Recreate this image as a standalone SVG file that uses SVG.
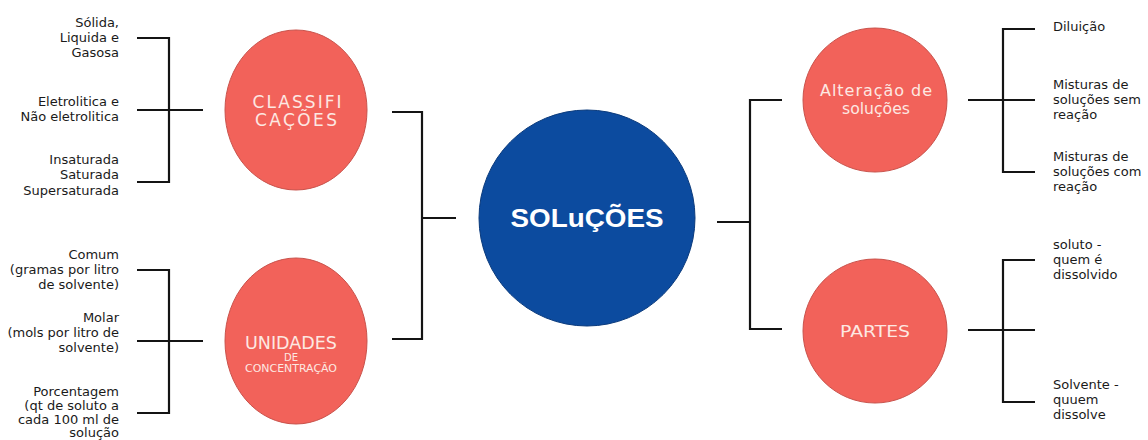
<svg xmlns="http://www.w3.org/2000/svg" width="1148" height="440" viewBox="0 0 1148 440">
  <style>
    .bg { fill: #ffffff; }
    .wire { fill: none; stroke: #141414; stroke-width: 2.2; stroke-linecap: butt; stroke-linejoin: miter; }
    .coral { fill: #f2625a; stroke: #c9524b; stroke-width: 1; }
    .core { fill: #0c4b9f; stroke: #0a3a7c; stroke-width: 1; }
    .lbl { font-family: "DejaVu Sans", "Liberation Sans", sans-serif; fill: #fde8e2; text-anchor: middle; }
    .core-lbl { font-family: "Liberation Sans", Arial, sans-serif; font-weight: bold; fill: #ffffff; text-anchor: middle; }
    .note { font-family: "DejaVu Sans", "Liberation Sans", sans-serif; font-size: 13px; fill: #1a1a1a; }
    .r { text-anchor: end; }
    .l { text-anchor: start; }
  </style>
  <rect class="bg" x="0" y="0" width="1148" height="440"/>

  <!-- connectors -->
  <g id="connectors" class="wire">
    <!-- classification bracket -->
    <path d="M137 38 H169 V182 H137"/>
    <path d="M137 110 H203"/>
    <!-- concentration bracket -->
    <path d="M137 270 H169 V413 H137"/>
    <path d="M137 341 H203"/>
    <!-- left nodes to centre -->
    <path d="M392 112 H422 V339 H392"/>
    <path d="M422 218 H456"/>
    <!-- centre to right nodes -->
    <path d="M717 222 H750"/>
    <path d="M782 100 H750 V329 H782"/>
    <!-- alteration bracket -->
    <path d="M968 100 H1035"/>
    <path d="M1035 29 H1003 V172 H1035"/>
    <!-- parts bracket -->
    <path d="M968 330 H1035"/>
    <path d="M1035 260 H1003 V402 H1035"/>
  </g>

  <!-- central node -->
  <g id="node-solucoes">
    <circle class="core" cx="587" cy="218" r="108"/>
    <text class="core-lbl" x="587" y="227" font-size="26" textLength="153" lengthAdjust="spacingAndGlyphs">SOLuÇÕES</text>
  </g>

  <!-- left nodes -->
  <g id="node-classificacoes">
    <ellipse class="coral" cx="296" cy="110" rx="71" ry="80"/>
    <text class="lbl" font-size="17" x="297" y="108" textLength="89" lengthAdjust="spacing">CLASSIFI</text>
    <text class="lbl" font-size="17" x="296" y="126" textLength="82" lengthAdjust="spacing">CAÇÕES</text>
  </g>

  <g id="node-unidades">
    <ellipse class="coral" cx="296" cy="341" rx="71" ry="83"/>
    <text class="lbl" font-size="17" x="291" y="349" textLength="92" lengthAdjust="spacingAndGlyphs">UNIDADES</text>
    <text class="lbl" font-size="10" x="291" y="361">DE</text>
    <text class="lbl" font-size="10" x="291" y="372" textLength="92" lengthAdjust="spacingAndGlyphs">CONCENTRAÇÃO</text>
  </g>

  <!-- right nodes -->
  <g id="node-alteracao">
    <circle class="coral" cx="875" cy="100" r="72"/>
    <text class="lbl" font-size="16" x="876" y="96" textLength="112" lengthAdjust="spacing">Alteração de</text>
    <text class="lbl" font-size="16" x="876" y="114" textLength="68" lengthAdjust="spacingAndGlyphs">soluções</text>
  </g>

  <g id="node-partes">
    <circle class="coral" cx="875" cy="331" r="72"/>
    <text class="lbl" font-size="16" x="875" y="337" textLength="70" lengthAdjust="spacingAndGlyphs">PARTES</text>
  </g>

  <!-- left leaf labels -->
  <g id="leaf-estados" class="note r">
    <text x="119" y="27">Sólida,</text>
    <text x="119" y="42">Liquida e</text>
    <text x="119" y="57">Gasosa</text>
  </g>
  <g id="leaf-eletrolitica" class="note r">
    <text x="119" y="106">Eletrolitica e</text>
    <text x="119" y="121">Não eletrolitica</text>
  </g>
  <g id="leaf-saturacao" class="note r">
    <text x="119" y="164">Insaturada</text>
    <text x="119" y="179">Saturada</text>
    <text x="119" y="195">Supersaturada</text>
  </g>
  <g id="leaf-comum" class="note r">
    <text x="119" y="259">Comum</text>
    <text x="119" y="274">(gramas por litro</text>
    <text x="119" y="289">de solvente)</text>
  </g>
  <g id="leaf-molar" class="note r">
    <text x="119" y="322">Molar</text>
    <text x="119" y="337">(mols por litro de</text>
    <text x="119" y="352">solvente)</text>
  </g>
  <g id="leaf-porcentagem" class="note r">
    <text x="119" y="396">Porcentagem</text>
    <text x="119" y="410">(qt de soluto a</text>
    <text x="119" y="424">cada 100 ml de</text>
    <text x="119" y="437">solução</text>
  </g>

  <!-- right leaf labels -->
  <g id="leaf-diluicao" class="note l">
    <text x="1053" y="31">Diluição</text>
  </g>
  <g id="leaf-sem-reacao" class="note l">
    <text x="1053" y="89">Misturas de</text>
    <text x="1053" y="104">soluções sem</text>
    <text x="1053" y="119">reação</text>
  </g>
  <g id="leaf-com-reacao" class="note l">
    <text x="1053" y="161">Misturas de</text>
    <text x="1053" y="176">soluções com</text>
    <text x="1053" y="191">reação</text>
  </g>
  <g id="leaf-soluto" class="note l">
    <text x="1053" y="249">soluto -</text>
    <text x="1053" y="264">quem é</text>
    <text x="1053" y="279">dissolvido</text>
  </g>
  <g id="leaf-solvente" class="note l">
    <text x="1053" y="389">Solvente -</text>
    <text x="1053" y="404">quuem</text>
    <text x="1053" y="419">dissolve</text>
  </g>
</svg>
